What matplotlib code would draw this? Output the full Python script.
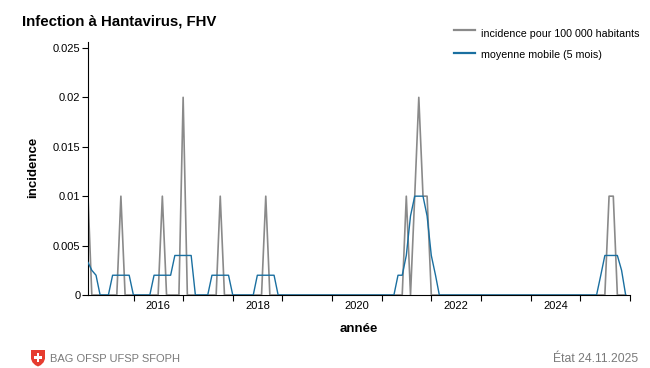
"""
Incidence mensuelle de l'infection à Hantavirus (FHV) avec moyenne mobile.
"""

import matplotlib
matplotlib.use('Agg')
import matplotlib.pyplot as plt
import pandas as pd
from matplotlib.lines import Line2D
from matplotlib.patches import Polygon, Rectangle
from matplotlib.ticker import FuncFormatter

plt.rcParams['font.family'] = ['Liberation Sans', 'DejaVu Sans']

# données mensuelles, janvier 2015 - novembre 2025 (une ligne = une année)
mois = pd.date_range('2015-01-31', periods=131, freq='ME')

incidence = (
    [0.01, 0, 0, 0, 0, 0, 0, 0, 0.01, 0, 0, 0]        # 2015
    + [0, 0, 0, 0, 0, 0, 0.01, 0, 0, 0, 0, 0.02]      # 2016
    + [0, 0, 0, 0, 0, 0, 0, 0, 0.01, 0, 0, 0]         # 2017
    + [0, 0, 0, 0, 0, 0, 0, 0.01, 0, 0, 0, 0]         # 2018
    + [0, 0, 0, 0, 0, 0, 0, 0, 0, 0, 0, 0]            # 2019
    + [0, 0, 0, 0, 0, 0, 0, 0, 0, 0, 0, 0]            # 2020
    + [0, 0, 0, 0, 0, 0.01, 0, 0.01, 0.02, 0.01, 0.01, 0]  # 2021
    + [0, 0, 0, 0, 0, 0, 0, 0, 0, 0, 0, 0]            # 2022
    + [0, 0, 0, 0, 0, 0, 0, 0, 0, 0, 0, 0]            # 2023
    + [0, 0, 0, 0, 0, 0, 0, 0, 0, 0, 0, 0]            # 2024
    + [0, 0, 0, 0, 0, 0, 0.01, 0.01, 0, 0, 0]         # 2025
)

moyenne_mobile = (
    [0.0033, 0.0025, 0.002, 0, 0, 0, 0.002, 0.002, 0.002, 0.002, 0.002, 0]          # 2015
    + [0, 0, 0, 0, 0.002, 0.002, 0.002, 0.002, 0.002, 0.004, 0.004, 0.004]          # 2016
    + [0.004, 0.004, 0, 0, 0, 0, 0.002, 0.002, 0.002, 0.002, 0.002, 0]              # 2017
    + [0, 0, 0, 0, 0, 0.002, 0.002, 0.002, 0.002, 0.002, 0, 0]                      # 2018
    + [0, 0, 0, 0, 0, 0, 0, 0, 0, 0, 0, 0]                                          # 2019
    + [0, 0, 0, 0, 0, 0, 0, 0, 0, 0, 0, 0]                                          # 2020
    + [0, 0, 0, 0.002, 0.002, 0.004, 0.008, 0.01, 0.01, 0.01, 0.008, 0.004]         # 2021
    + [0.002, 0, 0, 0, 0, 0, 0, 0, 0, 0, 0, 0]                                      # 2022
    + [0, 0, 0, 0, 0, 0, 0, 0, 0, 0, 0, 0]                                          # 2023
    + [0, 0, 0, 0, 0, 0, 0, 0, 0, 0, 0, 0]                                          # 2024
    + [0, 0, 0, 0, 0.002, 0.004, 0.004, 0.004, 0.004, 0.0025, 0]                    # 2025
)

y_ticks = [0, 0.005, 0.01, 0.015, 0.02, 0.025]
annees_ticks = list(range(2016, 2027))
annees_labels = [2016, 2018, 2020, 2022, 2024]

GRIS = '#8a8a8a'
BLEU = '#1a6fa0'
W, H = 650, 368

fig = plt.figure(figsize=(W / 100, H / 100), dpi=100)
ax = fig.add_axes([88 / W, 1 - 295 / H, 542 / W, 253 / H])

# courbes
ax.plot(mois, incidence, color=GRIS, lw=1.2, zorder=2)
ax.plot(mois, moyenne_mobile, color=BLEU, lw=1.0, zorder=3)

# axe y
ax.set_ylim(0, 0.0256)
ax.set_yticks(y_ticks)
ax.yaxis.set_major_formatter(FuncFormatter(lambda v, p: f'{v:g}'))
ax.tick_params(axis='y', length=4, width=0.8, pad=1.5, labelsize=8)

# axe x : traits aux débuts d'année, étiquettes au milieu des années paires
ax.set_xlim(mois[0], pd.Timestamp('2026-01-01'))
ax.set_xticks([pd.Timestamp(f'{a}-01-01') for a in annees_ticks])
ax.tick_params(axis='x', which='major', length=4, width=0.8, labelbottom=False)
ax.set_xticks([pd.Timestamp(f'{a}-07-01') for a in annees_labels], minor=True)
ax.set_xticklabels([str(a) for a in annees_labels], minor=True)
ax.tick_params(axis='x', which='minor', length=0, pad=4.5, labelsize=8)

for s in ['top', 'right']:
    ax.spines[s].set_visible(False)
for s in ['left', 'bottom']:
    ax.spines[s].set_linewidth(0.8)

# titres
fig.text(22 / W, 1 - 25 / H, 'Infection à Hantavirus, FHV', fontsize=10.8,
         fontweight='bold', va='baseline')
fig.text(359 / W, 1 - 332.5 / H, 'année', fontsize=9.5, fontweight='bold',
         ha='center', va='baseline')
fig.text(33 / W, 1 - 167 / H, 'incidence', fontsize=9.5, fontweight='bold',
         rotation=90, ha='center', va='center')

# légende
for y_ligne, y_texte, couleur, texte in [
    (30, 36.7, GRIS, 'incidence pour 100 000 habitants'),
    (53.3, 58.3, BLEU, 'moyenne mobile (5 mois)'),
]:
    fig.add_artist(Line2D([454 / W, 475 / W], [1 - y_ligne / H] * 2,
                          color=couleur, lw=1.6))
    fig.text(481 / W, 1 - y_texte / H, texte, fontsize=7.7, va='baseline')

# pied de page
logo = fig.add_axes([31 / W, 1 - 366.5 / H, 14 / W, 16.5 / H])
logo.set_xlim(0, 1)
logo.set_ylim(0, 1.18)
logo.axis('off')
logo.add_patch(Polygon([(0, 1.18), (1, 1.18), (1, 0.55), (0.9, 0.3), (0.7, 0.1),
                        (0.5, 0), (0.3, 0.1), (0.1, 0.3), (0, 0.55)],
                       closed=True, facecolor='#e63c2f', edgecolor='none'))
logo.add_patch(Rectangle((0.4, 0.35), 0.2, 0.6, facecolor='white', edgecolor='none'))
logo.add_patch(Rectangle((0.2, 0.55), 0.6, 0.2, facecolor='white', edgecolor='none'))

fig.text(50.5 / W, 1 - 362.5 / H, 'BAG OFSP UFSP SFOPH', fontsize=8,
         color='#7a7a7a', va='baseline')
fig.text(638 / W, 1 - 362.5 / H, 'État 24.11.2025', fontsize=8.8,
         color='#7a7a7a', ha='right', va='baseline')

fig.savefig('out.png', dpi=100)
plt.close(fig)
